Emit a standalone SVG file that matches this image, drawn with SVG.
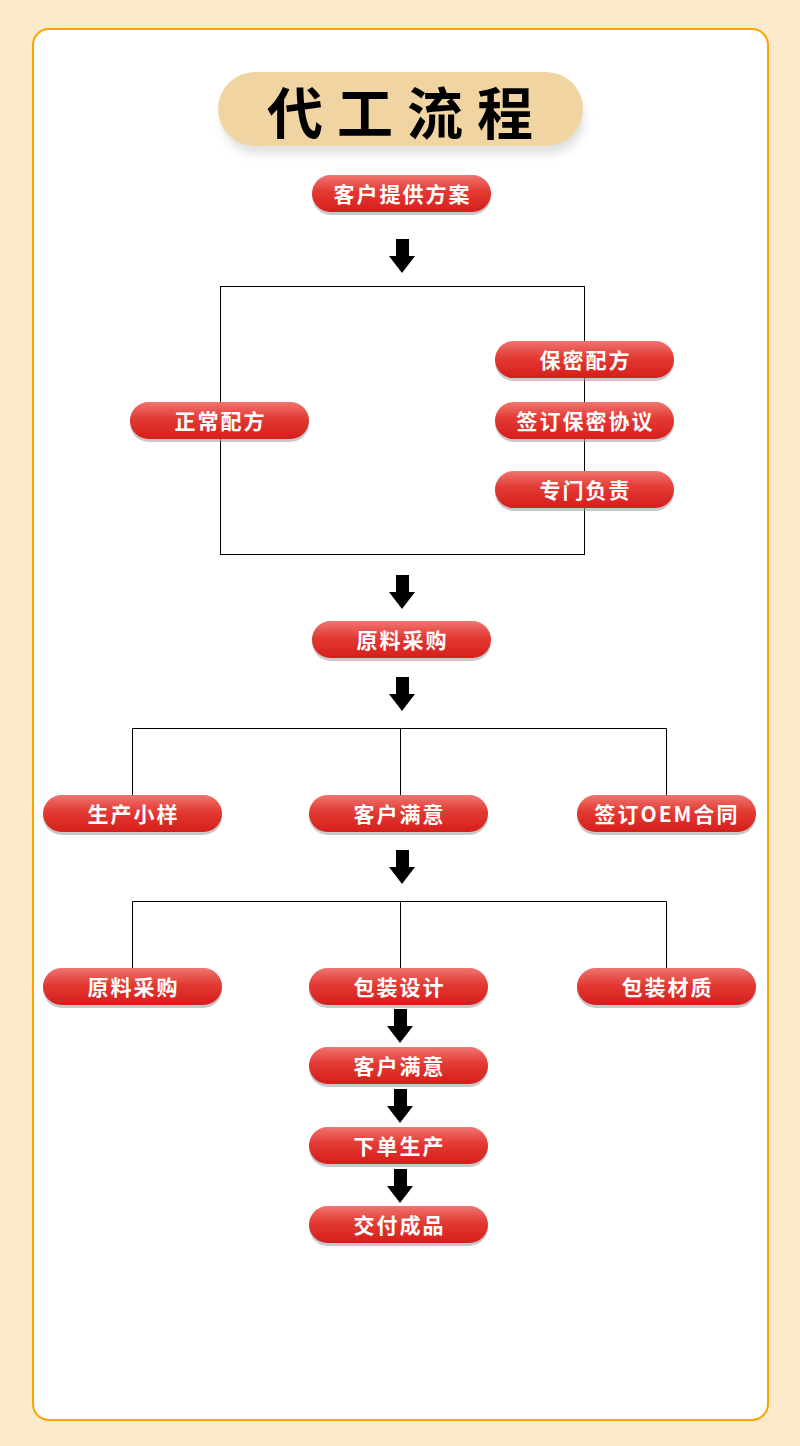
<svg xmlns="http://www.w3.org/2000/svg" width="800" height="1446" viewBox="0 0 800 1446">
<defs>
<linearGradient id="pg" x1="0" y1="0" x2="0" y2="1">
<stop offset="0" stop-color="#F07470"/>
<stop offset="0.45" stop-color="#E23A33"/>
<stop offset="1" stop-color="#D61E1B"/>
</linearGradient>
<filter id="ts" x="-20%" y="-40%" width="140%" height="200%">
<feGaussianBlur stdDeviation="5"/>
</filter>
<g id="arr">
<rect x="-6" y="0" width="13" height="18" fill="#000"/>
<polygon points="-13,17 13,17 0,34" fill="#000"/>
</g>
</defs>
<style>
.pill{fill:url(#pg);}
.psh{fill:#9a9a9a;opacity:0.55;}
.pt{font-family:"Noto Sans CJK SC","Noto Sans CJK JP",serif;font-weight:700;font-size:21px;fill:#fff;text-anchor:middle;dominant-baseline:central;letter-spacing:2px;}
.ln{stroke:#000;stroke-width:1;fill:none;}
</style>
<rect x="0" y="0" width="800" height="1446" fill="#FBEACB"/>
<rect x="33" y="29" width="735" height="1391" rx="16" fill="#fff" stroke="#F8A503" stroke-width="2"/>

<g id="title">
<rect x="222" y="84" width="362" height="70" rx="35" fill="#bbb" opacity="0.45" filter="url(#ts)"/>
<rect x="218" y="72" width="365" height="74" rx="37" fill="#F0D5A3"/>
<text x="407" y="109" font-family="Noto Sans CJK SC,serif" font-weight="700" font-size="56" fill="#000" text-anchor="middle" dominant-baseline="central" letter-spacing="14">代工流程</text>
</g>

<g id="connectors">
<use href="#arr" x="402" y="239"/>
<rect class="ln" x="220.5" y="286.5" width="364" height="268"/>
<use href="#arr" x="402" y="575"/>
<use href="#arr" x="402" y="677"/>
<path class="ln" d="M132.5 795V728.5H666.5V795M400.5 728.5V795"/>
<use href="#arr" x="402" y="850"/>
<path class="ln" d="M132.5 968V901.5H666.5V968M400.5 901.5V968"/>
<use href="#arr" x="400" y="1009"/>
<use href="#arr" x="400" y="1089"/>
<use href="#arr" x="400" y="1169"/>
</g>

<g id="n1"><rect class="psh" x="312" y="177" width="179" height="38" rx="19"/><rect class="pill" x="312" y="175" width="179" height="37" rx="18.5"/><text class="pt" x="402.5" y="193">客户提供方案</text></g>
<g id="n2"><rect class="psh" x="130" y="404" width="179" height="38" rx="19"/><rect class="pill" x="130" y="402" width="179" height="37" rx="18.5"/><text class="pt" x="220.5" y="420">正常配方</text></g>
<g id="n3"><rect class="psh" x="495" y="343" width="179" height="38" rx="19"/><rect class="pill" x="495" y="341" width="179" height="37" rx="18.5"/><text class="pt" x="585.5" y="359">保密配方</text></g>
<g id="n4"><rect class="psh" x="495" y="404" width="179" height="38" rx="19"/><rect class="pill" x="495" y="402" width="179" height="37" rx="18.5"/><text class="pt" x="585.5" y="420">签订保密协议</text></g>
<g id="n5"><rect class="psh" x="495" y="473" width="179" height="38" rx="19"/><rect class="pill" x="495" y="471" width="179" height="37" rx="18.5"/><text class="pt" x="585.5" y="489">专门负责</text></g>
<g id="n6"><rect class="psh" x="312" y="623" width="179" height="38" rx="19"/><rect class="pill" x="312" y="621" width="179" height="37" rx="18.5"/><text class="pt" x="402.5" y="639">原料采购</text></g>
<g id="n7"><rect class="psh" x="43" y="797" width="179" height="38" rx="19"/><rect class="pill" x="43" y="795" width="179" height="37" rx="18.5"/><text class="pt" x="133.5" y="813">生产小样</text></g>
<g id="n8"><rect class="psh" x="309" y="797" width="179" height="38" rx="19"/><rect class="pill" x="309" y="795" width="179" height="37" rx="18.5"/><text class="pt" x="399.5" y="813">客户满意</text></g>
<g id="n9"><rect class="psh" x="577" y="797" width="179" height="38" rx="19"/><rect class="pill" x="577" y="795" width="179" height="37" rx="18.5"/><text class="pt" x="667" y="813" letter-spacing="1">签订OEM合同</text></g>
<g id="n10"><rect class="psh" x="43" y="970" width="179" height="38" rx="19"/><rect class="pill" x="43" y="968" width="179" height="37" rx="18.5"/><text class="pt" x="133.5" y="986">原料采购</text></g>
<g id="n11"><rect class="psh" x="309" y="970" width="179" height="38" rx="19"/><rect class="pill" x="309" y="968" width="179" height="37" rx="18.5"/><text class="pt" x="399.5" y="986">包装设计</text></g>
<g id="n12"><rect class="psh" x="577" y="970" width="179" height="38" rx="19"/><rect class="pill" x="577" y="968" width="179" height="37" rx="18.5"/><text class="pt" x="667.5" y="986">包装材质</text></g>
<g id="n13"><rect class="psh" x="309" y="1049" width="179" height="38" rx="19"/><rect class="pill" x="309" y="1047" width="179" height="37" rx="18.5"/><text class="pt" x="399.5" y="1065">客户满意</text></g>
<g id="n14"><rect class="psh" x="309" y="1129" width="179" height="38" rx="19"/><rect class="pill" x="309" y="1127" width="179" height="37" rx="18.5"/><text class="pt" x="399.5" y="1145">下单生产</text></g>
<g id="n15"><rect class="psh" x="309" y="1208" width="179" height="38" rx="19"/><rect class="pill" x="309" y="1206" width="179" height="37" rx="18.5"/><text class="pt" x="399.5" y="1224">交付成品</text></g>
</svg>
